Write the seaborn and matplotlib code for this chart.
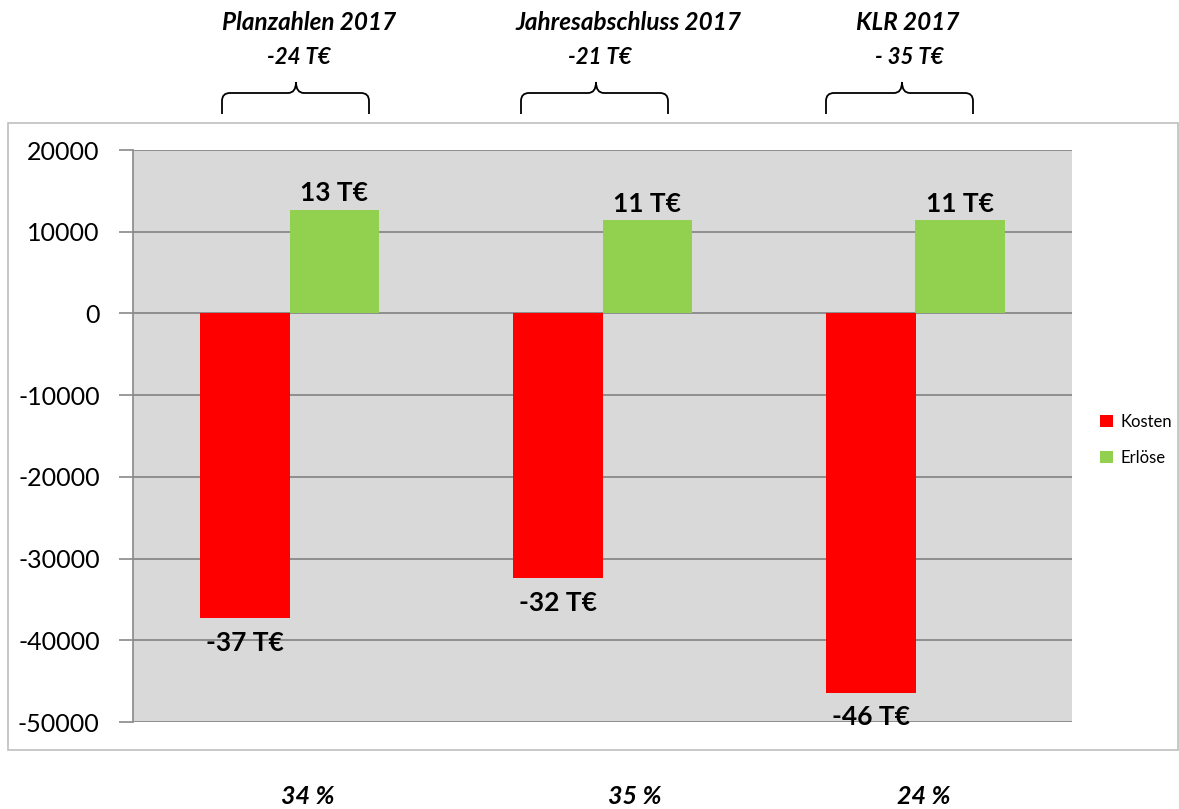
import matplotlib.pyplot as plt
import pandas as pd
import seaborn as sns
from matplotlib.patches import Patch, PathPatch, Rectangle
from matplotlib.path import Path


# Data
CATEGORIES = ["Planzahlen 2017", "Jahresabschluss 2017", "KLR 2017"]
SERIES = ["Kosten", "Erlöse"]
KOSTEN = [-37300, -32400, -46400]
ERLOESE = [12700, 11400, 11400]
SALDO_LABELS = ["-24 T€", "-21 T€", "- 35 T€"]
QUOTE_LABELS = ["34 %", "35 %", "24 %"]
Y_TICKS = [20000, 10000, 0, -10000, -20000, -30000, -40000, -50000]

COLORS = ["#ff0000", "#92d050"]
GRID = "#898989"
W, H = 1179, 809
FONT = ["Lato", "DejaVu Sans"]


def fx(px):
    return px / W


def fy(py):
    return 1 - py / H


def draw_brace(fig, x0, x1, xm, ytop=82, ymid=93, ybot=114, r=8):
    pts = [
        ((x0, ybot), Path.MOVETO),
        ((x0, ymid + r), Path.LINETO),
        ((x0, ymid), Path.CURVE3),
        ((x0 + r, ymid), Path.CURVE3),
        ((xm - r, ymid), Path.LINETO),
        ((xm, ymid), Path.CURVE3),
        ((xm, ytop), Path.CURVE3),
        ((xm, ymid), Path.CURVE3),
        ((xm + r, ymid), Path.CURVE3),
        ((x1 - r, ymid), Path.LINETO),
        ((x1, ymid), Path.CURVE3),
        ((x1, ymid + r), Path.CURVE3),
        ((x1, ybot), Path.LINETO),
    ]
    verts = [(fx(x), fy(y)) for (x, y), _ in pts]
    codes = [c for _, c in pts]
    patch = PathPatch(Path(verts, codes), transform=fig.transFigure,
                      facecolor="none", edgecolor="black", lw=1.3)
    fig.add_artist(patch)


def main() -> None:
    sns.set_style("white")
    plt.rcParams["font.family"] = FONT
    plt.rcParams["text.color"] = "black"
    plt.rcParams["ytick.labelcolor"] = "black"

    df = pd.DataFrame({
        "Kategorie": CATEGORIES * 2,
        "Reihe": [SERIES[0]] * 3 + [SERIES[1]] * 3,
        "Wert": KOSTEN + ERLOESE,
    })

    fig = plt.figure(figsize=(W / 100, H / 100), dpi=100)
    fig.add_artist(Rectangle((fx(8), fy(750)), fx(1178) - fx(8), fy(123) - fy(750),
                             transform=fig.transFigure, facecolor="none",
                             edgecolor="#bfbfbf", lw=1.2))

    ax = fig.add_axes([fx(133), fy(722), fx(1072 - 133), (722 - 150) / H])
    sns.barplot(data=df, x="Kategorie", y="Wert", hue="Reihe", palette=COLORS,
                width=0.575, dodge=True, saturation=1, legend=False,
                linewidth=0, edgecolor="none", ax=ax)

    ax.set_facecolor("#d9d9d9")
    ax.set_ylim(-50000, 20000)
    ax.set_yticks(Y_TICKS)
    ax.set_yticklabels([str(t) for t in Y_TICKS], fontsize=18, color="black")
    ax.tick_params(axis="y", length=10, width=1.2, color=GRID, pad=14, left=True)
    ax.set_xticks([])
    ax.set_xlabel("")
    ax.set_ylabel("")
    ax.set_axisbelow(True)
    ax.yaxis.grid(True, color=GRID, lw=1.3)
    for side in ["top", "right", "bottom"]:
        ax.spines[side].set_visible(False)
    ax.spines["left"].set_color(GRID)
    ax.spines["left"].set_linewidth(1.2)

    for container, pad in zip(ax.containers, [9, 3]):
        labels = [f"{bar.get_height() / 1000:.0f} T€" for bar in container]
        ax.bar_label(container, labels=labels, padding=pad, fontsize=19,
                     fontweight="bold", color="black")

    title_x = [309, 628, 908]
    saldo_x = [299, 600, 909]
    braces = [(222, 369, 296), (521, 668, 596), (826, 973, 902)]
    quote_x = [308, 635, 924]
    for i in range(len(CATEGORIES)):
        fig.text(fx(title_x[i]), fy(22), CATEGORIES[i], ha="center", va="center",
                 fontsize=17.5, fontweight="bold", style="italic")
        fig.text(fx(saldo_x[i]), fy(57), SALDO_LABELS[i], ha="center", va="center",
                 fontsize=16, fontweight="bold", style="italic")
        draw_brace(fig, *braces[i])
        fig.text(fx(quote_x[i]), fy(797), QUOTE_LABELS[i], ha="center", va="center",
                 fontsize=18, fontweight="bold", style="italic")

    handles = [Patch(facecolor=c, edgecolor="none", label=s) for c, s in zip(COLORS, SERIES)]
    fig.legend(handles=handles, loc="center left", bbox_to_anchor=(fx(1085), fy(440)),
               frameon=False, fontsize=12, handlelength=0.75, handleheight=0.75,
               handletextpad=0.5, labelspacing=1.2)

    fig.savefig("out.png", dpi=100)
    plt.close(fig)


if __name__ == "__main__":
    main()
